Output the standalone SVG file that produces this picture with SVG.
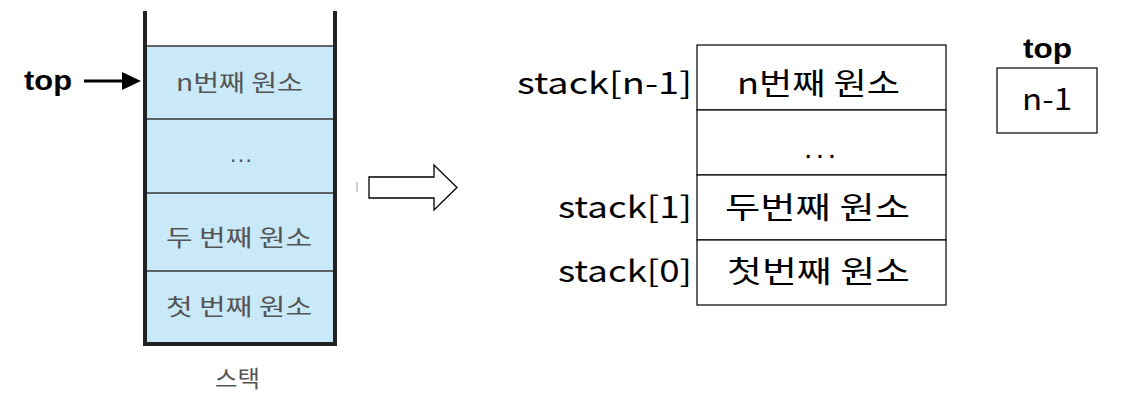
<svg xmlns="http://www.w3.org/2000/svg" width="1132" height="400" viewBox="0 0 1132 400">
<style>
.k{font-family:"Noto Sans CJK KR","Liberation Sans",sans-serif}
.e{font-family:"Liberation Sans",sans-serif}
.g{fill:#555;font-size:23px}
.b{fill:#000;font-size:30px}
.bold{font-family:"Liberation Sans",sans-serif;font-weight:bold;font-size:27px;fill:#000}
.cell{fill:#fff;stroke:#000;stroke-width:1.2}
.div{stroke:#333;stroke-width:1.5}
</style>
<rect width="1132" height="400" fill="#fff"/>
<g id="stack-left">
<rect x="145" y="46" width="190" height="298" fill="#C9E8F8"/>
<line class="div" x1="145" y1="46" x2="335" y2="46"/>
<line class="div" x1="145" y1="119" x2="335" y2="119"/>
<line class="div" x1="145" y1="193" x2="335" y2="193"/>
<line class="div" x1="145" y1="271" x2="335" y2="271"/>
<path d="M145,11 V344 H335 V11" fill="none" stroke="#222" stroke-width="4"/>
<text class="k g" x="176" y="91" textLength="127" lengthAdjust="spacingAndGlyphs">n번째 원소</text>
<text class="e g" x="230" y="162" textLength="22" lengthAdjust="spacing">...</text>
<text class="k g" x="166" y="246" textLength="146" lengthAdjust="spacingAndGlyphs">두 번째 원소</text>
<text class="k g" x="166" y="315" textLength="146" lengthAdjust="spacingAndGlyphs">첫 번째 원소</text>
<text class="k g" x="215" y="387" font-size="24" textLength="45" lengthAdjust="spacingAndGlyphs">스택</text>
</g>
<g id="top-pointer">
<text class="bold" x="24" y="90" textLength="48" lengthAdjust="spacingAndGlyphs">top</text>
</g>
<g id="connectors">
<line x1="84" y1="81" x2="124" y2="81" stroke="#000" stroke-width="3"/>
<path d="M122,72 L141,81 L122,90 Z" fill="#000"/>
<path d="M369,177 H434 V165 L457,187.5 L434,210 V198 H369 Z" fill="#fff" stroke="#000" stroke-width="1.3"/>
<line x1="357" y1="182" x2="357" y2="192" stroke="#aaa" stroke-width="1.2"/>
</g>
<g id="stack-array">
<rect class="cell" x="697" y="45" width="249" height="65"/>
<rect class="cell" x="697" y="110" width="249" height="65"/>
<rect class="cell" x="697" y="175" width="249" height="65"/>
<rect class="cell" x="697" y="240" width="249" height="65"/>
<text class="k b" x="737" y="94" textLength="163" lengthAdjust="spacingAndGlyphs">n번째 원소</text>
<text class="e b" x="804" y="158" textLength="32" lengthAdjust="spacing">...</text>
<text class="k b" x="725" y="218" textLength="185" lengthAdjust="spacingAndGlyphs">두번째 원소</text>
<text class="k b" x="727" y="282" textLength="183" lengthAdjust="spacingAndGlyphs">첫번째 원소</text>
<text class="k b" x="517" y="94" textLength="175" lengthAdjust="spacingAndGlyphs">stack[n-1]</text>
<text class="k b" x="558" y="218" textLength="134" lengthAdjust="spacingAndGlyphs">stack[1]</text>
<text class="k b" x="558" y="282" textLength="134" lengthAdjust="spacingAndGlyphs">stack[0]</text>
</g>
<g id="top-var">
<text class="bold" x="1023" y="58" textLength="49" lengthAdjust="spacingAndGlyphs">top</text>
<rect class="cell" x="997" y="68" width="100" height="65"/>
<text class="k b" x="1022" y="110" textLength="50" lengthAdjust="spacingAndGlyphs">n-1</text>
</g>
</svg>
